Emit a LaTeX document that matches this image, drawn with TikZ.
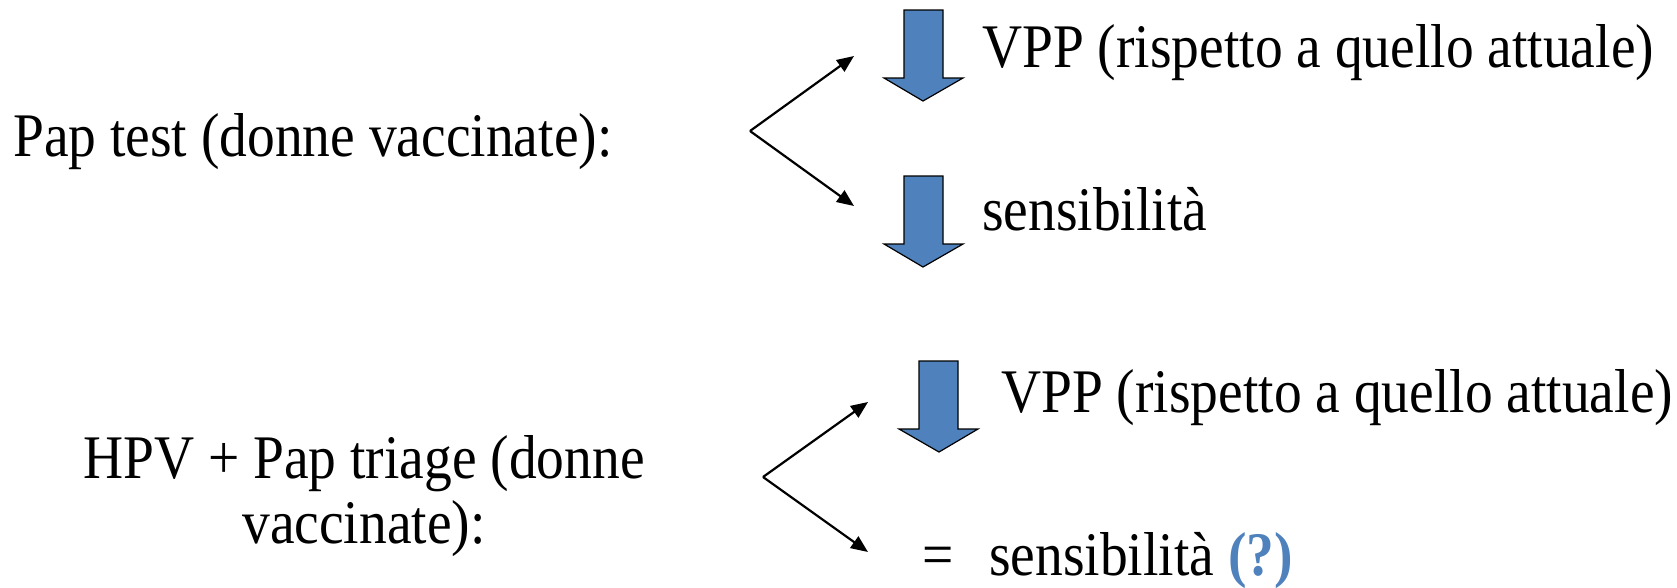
\documentclass[tikz,border=0pt]{standalone}
\usepackage{fontspec}
\setmainfont{Liberation Serif}
\newfontfamily\garfont[FakeStretch=0.895]{Liberation Serif}
\usetikzlibrary{arrows.meta}
\definecolor{officeblue}{RGB}{79,129,189}
\tikzset{
  lbl/.style={inner sep=0pt, anchor=base west, font=\garfont\fontsize{62}{65}\selectfont},
  fork/.style={line width=2.2pt, -{Triangle[length=17pt,width=14pt]}},
  blockarrow/.style={fill=officeblue, draw=black, line width=1.2pt, line join=miter}
}
\begin{document}
\begin{tikzpicture}[x=1pt,y=-1pt]
\useasboundingbox (0,0) rectangle (1677,587);

% --- Pap test on vaccinated women ---
\node[lbl] (pap) at (13,156) {Pap test (donne vaccinate):};
\coordinate (f1) at (750,131);
\coordinate (f1up) at (854,56);
\coordinate (f1dn) at (854,206);
\draw[fork] (f1) -- (f1up);
\draw[fork] (f1) -- (f1dn);

\draw[blockarrow] (904,10) -- (943,10) -- (943,78) -- (963,78) -- (923,101)
  -- (884,78) -- (904,78) -- cycle;
\draw[blockarrow] (904,176) -- (943,176) -- (943,244) -- (963,244) -- (923,267)
  -- (884,244) -- (904,244) -- cycle;

\node[lbl] (vpp1) at (982,67) {VPP (rispetto a quello attuale)};
\node[lbl] (sens1) at (982,230) {sensibilità};

% --- HPV test with Pap triage on vaccinated women ---
\node[lbl, anchor=base] (hpv1) at (364,478) {HPV + Pap triage (donne};
\node[lbl, anchor=base] (hpv2) at (364,543) {vaccinate):};
\coordinate (f2) at (763,477);
\coordinate (f2up) at (868,402);
\coordinate (f2dn) at (868,552);
\draw[fork] (f2) -- (f2up);
\draw[fork] (f2) -- (f2dn);

\draw[blockarrow] (919,361) -- (958,361) -- (958,429) -- (978,429) -- (939,452)
  -- (899,429) -- (919,429) -- cycle;

\node[lbl] (vpp2) at (1001,412) {VPP (rispetto a quello attuale)};
\node[lbl] (eq) at (922,575) {=};
\node[lbl] (sens2) at (989,575) {sensibilità \textcolor{officeblue}{\bfseries(?)}};
\end{tikzpicture}
\end{document}
